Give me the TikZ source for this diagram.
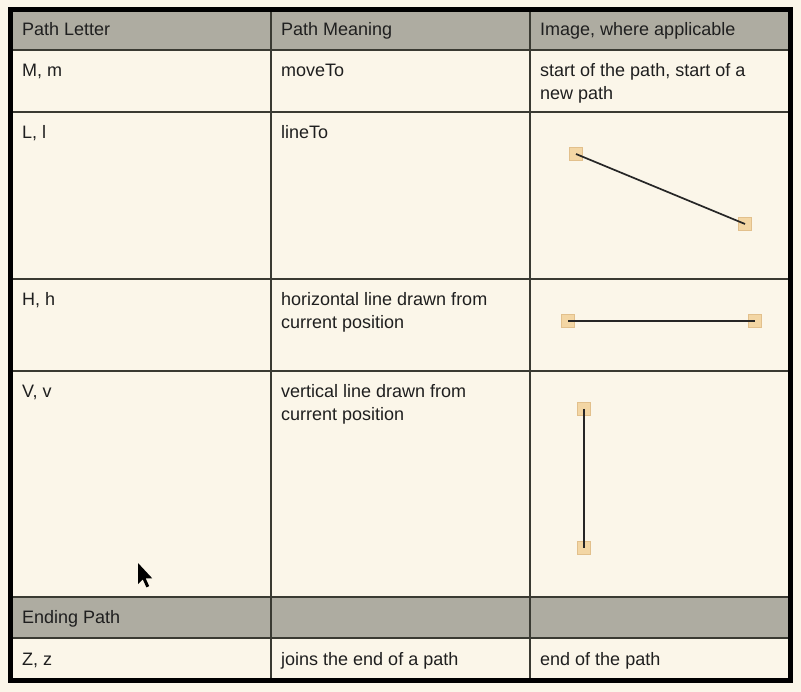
\documentclass[tikz,border=0pt]{standalone}
\usepackage{fontspec}
\setmainfont{Liberation Sans}
\usetikzlibrary{positioning}
\definecolor{cream}{HTML}{FBF6E9}
\definecolor{headgray}{HTML}{AEACA1}
\definecolor{gridline}{HTML}{3A3A32}
\definecolor{handle}{HTML}{F3D6A4}
\definecolor{handleedge}{HTML}{E2C08C}

\begin{document}
\begin{tikzpicture}[
    x=1pt, y=-1pt,
    cell/.style={anchor=base west, inner sep=0pt, align=left, font=\fontsize{18}{23}\selectfont, text=black!88},
    handlebox/.style={rectangle, draw=handleedge, fill=handle, minimum size=13pt, inner sep=0pt},
    seg/.style={draw=black!85, line width=1.7pt}
]

\fill[cream] (0,0) rectangle (801,692);
\useasboundingbox (0,0) rectangle (801,692);

% shaded rows
\fill[headgray] (10,10) rectangle (790,50);
\fill[headgray] (10,597) rectangle (790,638);

% grid
\foreach \y in {50,112,279,371,597,638}
    \draw[gridline, line width=1.3pt] (10,\y) -- (790,\y);
\foreach \x in {271,530}
    \draw[gridline, line width=1.3pt] (\x,10) -- (\x,680);
\draw[black, line width=5pt] (10,10) rectangle (790,680);

% header
\node[cell] (hletter) at (22,36) {Path Letter};
\node[cell] (hmeaning) at (281,36) {Path Meaning};
\node[cell] (himage) at (540,36) {Image, where applicable};

% rows (two-line cells sit on their last line)
\node[cell] (mletter) at (22,77) {M, m};
\node[cell] (mmeaning) at (281,77) {moveTo};
\node[cell] (mimage) at (540,100) {start of the path, start of a\\new path};

\node[cell] (lletter) at (22,139) {L, l};
\node[cell] (lmeaning) at (281,139) {lineTo};

\node[cell] (hhletter) at (22,306) {H, h};
\node[cell] (hhmeaning) at (281,329) {horizontal line drawn from\\current position};

\node[cell] (vletter) at (22,398) {V, v};
\node[cell] (vmeaning) at (281,421) {vertical line drawn from\\current position};

\node[cell] (ending) at (22,623) {Ending Path};

\node[cell] (zletter) at (22,665) {Z, z};
\node[cell] (zmeaning) at (281,665) {joins the end of a path};
\node[cell] (zimage) at (540,665) {end of the path};

% sample segments
\node[handlebox] (l1) at (576,154) {};
\node[handlebox] (l2) at (745,224) {};
\draw[seg] (l1.center) -- (l2.center);

\node[handlebox] (h1) at (568,321) {};
\node[handlebox] (h2) at (755,321) {};
\draw[seg] (h1.center) -- (h2.center);

\node[handlebox] (v1) at (584,409) {};
\node[handlebox] (v2) at (584,548) {};
\draw[seg] (v1.center) -- (v2.center);

% mouse pointer
\fill[black] (138,563) -- ++(0,21) -- ++(4.8,-4.6) -- ++(3.6,8) -- ++(2.8,-1.3) -- ++(-3.6,-7.8) -- ++(6.6,0) -- cycle;

\end{tikzpicture}
\end{document}
